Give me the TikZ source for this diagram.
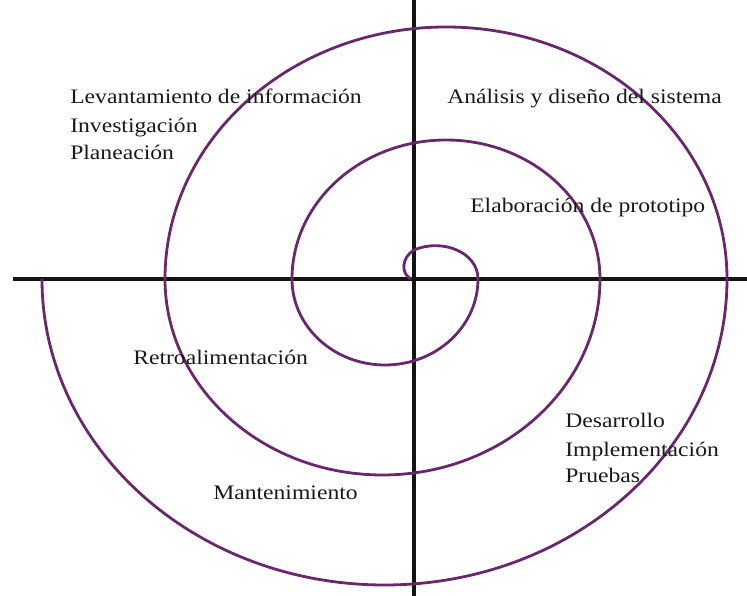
\documentclass[tikz,border=0pt]{standalone}
\usepackage{fontspec}
\setmainfont{Liberation Serif}
\definecolor{spiral}{RGB}{106,40,108}
\definecolor{axis}{RGB}{20,20,20}
\definecolor{txt}{RGB}{25,25,25}
\tikzset{
  spiralline/.style={draw=spiral, line width=2.1pt},
  axisline/.style={draw=axis, line width=2.3pt},
  lbl/.style={anchor=base west, inner sep=0pt, text=txt, font=\fontsize{18}{21}\selectfont, xscale=0.985, yscale=0.86, transform shape}
}
\begin{document}
\begin{tikzpicture}[x=0.75pt,y=0.75pt]
\useasboundingbox (0,0) rectangle (747,596);
% axes
\coordinate (vt) at (414,596);
\coordinate (vb) at (414,0);
\coordinate (hl) at (13,317);
\coordinate (hr) at (747,317);
\draw[axisline] (vt) -- (vb);
\draw[axisline] (hl) -- (hr);
% spiral
\coordinate (s0) at (411,317);
\draw[spiralline] (s0) .. controls (401,322) and (401,338) .. (414,346)
  .. controls (442,358) and (478,344) .. (478,317)
  arc[start angle=0, end angle=-180, x radius=93, y radius=86]
  arc[start angle=180, end angle=0, x radius=154, y radius=139]
  arc[start angle=0, end angle=-180, x radius=217.5, y radius=196]
  arc[start angle=180, end angle=0, x radius=281, y radius=252]
  arc[start angle=0, end angle=-180, x radius=342.5, y radius=306];
% labels
\node[lbl] (l1) at (70,492) {Levantamiento de información};
\node[lbl] (l2) at (70,463) {Investigación};
\node[lbl] (l3) at (70,436) {Planeación};
\node[lbl] (a1) at (447,492) {Análisis y diseño del sistema};
\node[lbl] (e1) at (470,383) {Elaboración de prototipo};
\node[lbl] (r1) at (133,231) {Retroalimentación};
\node[lbl] (d1) at (565,168) {Desarrollo};
\node[lbl] (d2) at (565,139) {Implementación};
\node[lbl] (d3) at (565,113) {Pruebas};
\node[lbl] (m1) at (213,96) {Mantenimiento};
\end{tikzpicture}
\end{document}
